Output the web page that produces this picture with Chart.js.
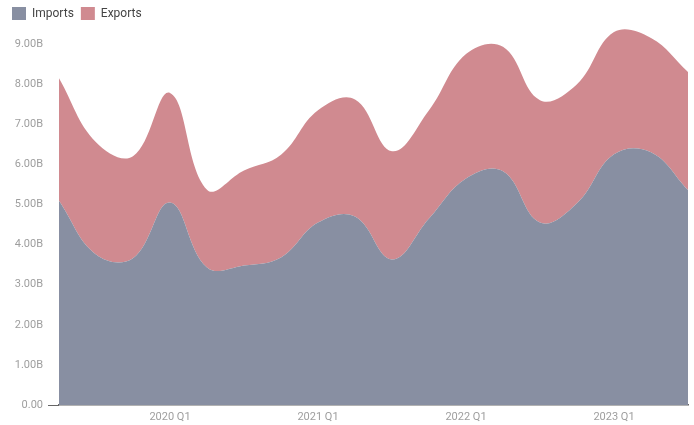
<!DOCTYPE html>
<html>
<head>
<meta charset="utf-8">
<script src="https://cdn.jsdelivr.net/npm/chart.js@4/dist/chart.umd.min.js"></script>
<style>
  html, body { margin: 0; padding: 0; background: #fff; }
  #wrap { width: 694px; height: 425px; }
</style>
</head>
<body>
<div id="wrap"><canvas id="canvasTrade"></canvas></div>
<script>
"use strict";

// quarters, 2019 Q2 .. 2023 Q3
var quarters = [
	'2019 Q2', '2019 Q3', '2019 Q4',
	'2020 Q1', '2020 Q2', '2020 Q3', '2020 Q4',
	'2021 Q1', '2021 Q2', '2021 Q3', '2021 Q4',
	'2022 Q1', '2022 Q2', '2022 Q3', '2022 Q4',
	'2023 Q1', '2023 Q2', '2023 Q3'
];
// values in billions
var imports = [5.09, 3.75, 3.66, 5.05, 3.43, 3.48, 3.68, 4.55, 4.70, 3.63, 4.65, 5.65, 5.83, 4.55, 5.03, 6.25, 6.30, 5.36];
var exports = [3.06, 2.80, 2.54, 2.73, 1.94, 2.37, 2.56, 2.80, 2.92, 2.70, 2.70, 3.10, 3.10, 3.05, 2.97, 3.05, 2.85, 2.94];
var yTicks = [0, 1, 2, 3, 4, 5, 6, 7, 8, 9];

var importColor = '#888fa2';
var exportColor = '#d08a90';

function FormatBillions(value) {
	if (value === 0) {
		return '0.00';
	}
	return value.toFixed(2) + 'B';
}

const context = document.getElementById('canvasTrade');
const myChart = new Chart(context, {
	type: 'line',
	data: {
		labels: quarters,
		datasets: [{
			label: 'Imports',
			data: imports,
			backgroundColor: importColor,
			borderColor: importColor,
			borderWidth: 0,
			fill: 'origin'
		}, {
			label: 'Exports',
			data: exports,
			backgroundColor: exportColor,
			borderColor: exportColor,
			borderWidth: 0,
			fill: '-1'
		}]
	},
	options: {
		responsive: true,
		maintainAspectRatio: false,
		animation: false,
		layout: {
			padding: { left: 5, right: 6, top: 0, bottom: 0 }
		},
		elements: {
			point: { radius: 0, hoverRadius: 0 },
			line: { tension: 0.4 }
		},
		plugins: {
			tooltip: { enabled: false },
			legend: {
				align: 'start',
				maxHeight: 26,
				labels: {
					boxWidth: 14,
					boxHeight: 13,
					padding: 7,
					color: '#444',
					font: { family: 'Roboto', size: 12 }
				}
			}
		},
		scales: {
			x: {
				offset: false,
				afterFit: function (scale) {
					scale.height = 20;
				},
				grid: { display: false, drawTicks: false },
				border: { display: true, color: '#666', width: 1.5 },
				ticks: {
					autoSkip: false,
					maxRotation: 0,
					padding: 6,
					color: '#9e9e9e',
					font: { family: 'Roboto', size: 11 },
					callback: function (value, index) {
						var label = quarters[index];
						return label.indexOf('Q1') > 0 ? label : null;
					}
				}
			},
			y: {
				stacked: true,
				min: 0,
				max: 9.45,
				afterFit: function (scale) {
					scale.width = 54;
				},
				afterBuildTicks: function (scale) {
					scale.ticks = yTicks.map(function (v) { return { value: v }; });
				},
				border: { display: false },
				grid: {
					drawOnChartArea: false,
					drawTicks: true,
					tickLength: 11,
					color: function (ctx) {
						return ctx.tick && ctx.tick.value === 0 ? '#666' : 'rgba(0,0,0,0)';
					}
				},
				ticks: {
					padding: 5,
					color: '#9e9e9e',
					font: { family: 'Roboto', size: 11 },
					callback: function (value) {
						return FormatBillions(value);
					}
				}
			}
		}
	}
});
</script>
</body>
</html>
